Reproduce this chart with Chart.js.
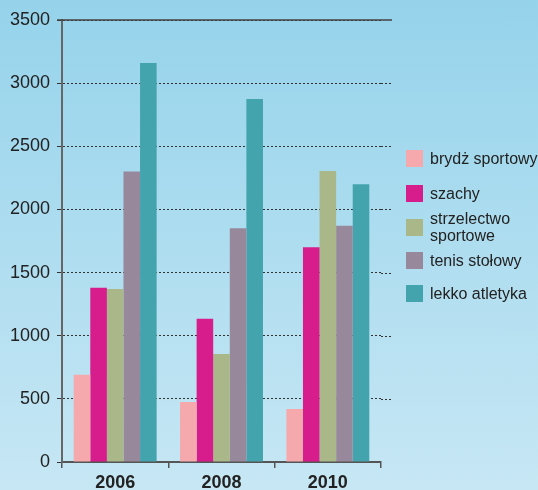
<!DOCTYPE html>
<html>
<head>
<meta charset="utf-8">
<script src="https://cdn.jsdelivr.net/npm/chart.js@4"></script>
<style>
    html, body { margin: 0; padding: 0; }
    body {
        width: 538px; height: 490px; overflow: hidden; position: relative;
        background: linear-gradient(to bottom, #95d3eb, #c7e7f4);
        font-family: "Liberation Sans", Arial, sans-serif;
    }
    #wrap { position: absolute; left: 0; top: 0; width: 538px; height: 490px; }
    #legend { position: absolute; left: 406px; top: 0; }
    .item { position: absolute; left: 0; display: flex; align-items: center; white-space: nowrap; font-size: 16px; line-height: 17px; color: #222; }
    .box { width: 17px; height: 17px; margin-right: 7px; flex: none; }
</style>
</head>
<body>
<div id="wrap"><canvas id="chart" width="538" height="490"></canvas></div>
<div id="legend"></div>
<script>
const years = ['2006', '2008', '2010'];
const seriesNames = [['brydż sportowy'], ['szachy'], ['strzelectwo', 'sportowe'], ['tenis stołowy'], ['lekko atletyka']];
const brydz = [690, 475, 420];
const szachy = [1380, 1135, 1700];
const strzelectwo = [1370, 855, 2305];
const tenis = [2300, 1850, 1870];
const lekkoAtletyka = [3160, 2875, 2200];
const yTicks = [0, 500, 1000, 1500, 2000, 2500, 3000, 3500];

const colors = ['#f6a9ac', '#d61d8b', '#aab788', '#98889c', '#43a4ae'];
const values = [brydz, szachy, strzelectwo, tenis, lekkoAtletyka];

// legend rows (center y of each entry)
const legendY = [158, 193, 227, 260, 293];
const legend = document.getElementById('legend');
seriesNames.forEach((name, i) => {
    const row = document.createElement('div');
    row.className = 'item';
    row.innerHTML = '<div class="box" style="background:' + colors[i] + '"></div><div>' + name.join('<br>') + '</div>';
    legend.appendChild(row);
    row.style.top = (legendY[i] - row.offsetHeight / 2) + 'px';
});

// solid top line + gridlines running a bit past the x axis
const gridExtra = {
    id: 'gridExtra',
    beforeDatasetsDraw(chart) {
        const { ctx, chartArea } = chart;
        const y = chart.scales.y;
        ctx.save();
        ctx.strokeStyle = '#333';
        ctx.lineWidth = 1;
        ctx.setLineDash([2, 2]);
        yTicks.slice(1, -1).forEach(v => {
            const py = Math.round(y.getPixelForValue(v)) + 0.5;
            ctx.beginPath();
            ctx.moveTo(chartArea.right, py);
            ctx.lineTo(chartArea.right + 11, py);
            ctx.stroke();
        });
        ctx.setLineDash([]);
        ctx.strokeStyle = '#444';
        ctx.lineWidth = 1.5;
        const top = y.getPixelForValue(yTicks[yTicks.length - 1]);
        ctx.beginPath();
        ctx.moveTo(chartArea.left - 5, top);
        ctx.lineTo(chartArea.right + 11, top);
        ctx.stroke();
        ctx.restore();
    }
};

new Chart(document.getElementById('chart'), {
    type: 'bar',
    data: {
        labels: years,
        datasets: values.map((v, i) => ({
            label: seriesNames[i].join(' '),
            data: v,
            backgroundColor: colors[i],
            borderWidth: 0,
            categoryPercentage: 0.78,
            barPercentage: 1.0,
        }))
    },
    options: {
        responsive: false,
        animation: false,
        layout: { padding: { top: 20, right: 157, left: 0, bottom: 0 } },
        plugins: { legend: { display: false }, tooltip: { enabled: false } },
        scales: {
            x: {
                afterFit: s => { s.height = 28; },
                grid: { offset: true, drawOnChartArea: false, tickLength: 6, color: '#555', lineWidth: 1.5 },
                border: { color: '#555', width: 2 },
                ticks: { color: '#222', padding: 4, font: { family: 'Liberation Sans', size: 18, weight: 'bold' } }
            },
            y: {
                min: 0,
                max: 3500,
                afterFit: s => { s.width = 62; },
                afterBuildTicks: s => { s.ticks = yTicks.map(v => ({ value: v })); },
                grid: { color: '#333', lineWidth: 1, tickLength: 5, tickColor: '#333' },
                border: { color: '#666', width: 2, dash: [2, 2] },
                ticks: {
                    color: '#222', padding: 7, font: { family: 'Liberation Sans', size: 18 },
                    callback: v => String(v)
                }
            }
        }
    },
    plugins: [gridExtra]
});
</script>
</body>
</html>
